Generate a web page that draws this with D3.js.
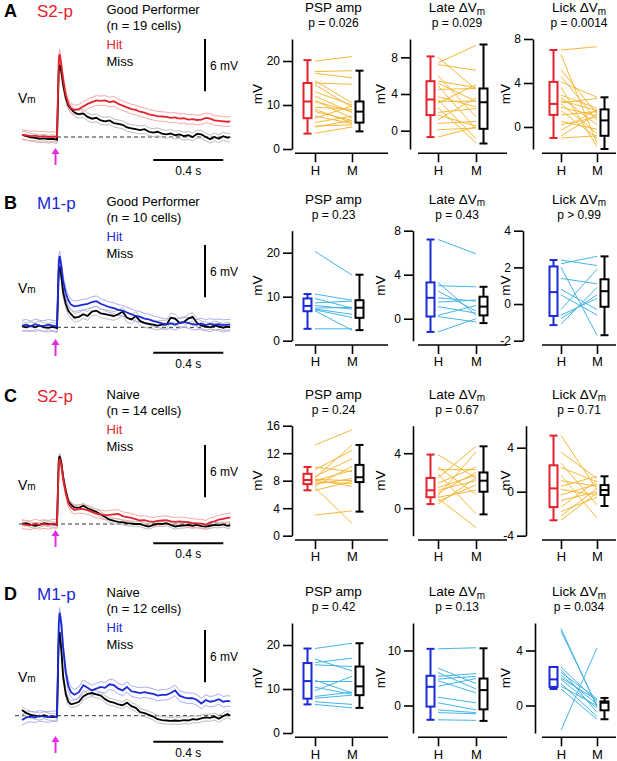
<!DOCTYPE html>
<html>
<head>
<meta charset="utf-8">
<script src="https://cdn.jsdelivr.net/npm/d3@7"></script>
<style>
  body { margin: 0; background: #fff; }
  svg { font-family: "Liberation Sans", Arial, sans-serif; }
  .axis path, .axis line { stroke: #000; stroke-width: 1.6; }
  .axis text { fill: #000; font-family: "Liberation Sans", Arial, sans-serif; }
</style>
</head>
<body>
<svg id="fig" width="617" height="761"></svg>
<script>
// ---- trace data (mV vs time in s, stim at 0) ----
var tTrace = [-0.2,-0.175,-0.15,-0.125,-0.1,-0.075,-0.05,-0.025,0,
  0.004,0.01,0.015,0.025,0.035,0.05,0.065,0.08,0.1,
  0.125,0.15,0.175,0.2,0.225,0.25,0.275,0.3,0.325,0.35,
  0.375,0.4,0.425,0.45,0.475,0.5,0.525,0.55,0.575,0.6,
  0.625,0.65,0.675,0.7,0.725,0.75,0.775,0.8,0.825,0.85,
  0.875,0.9,0.925,0.95,0.975,0.99];

var hitA = [0.25,0.2,0.1,0.15,0.05,0.1,0.0,0.05,0.0, 3.5,8.8,9.5,8.2,6.6,4.8,3.8,3.3,3.1,
  3.2,3.5,3.8,4.0,4.2,4.15,4.2,4.0,4.1,3.8, 3.6,3.4,3.2,3.1,2.9,2.8,2.6,2.5,2.4,2.35,
  2.3,2.2,2.25,2.1,2.15,2.0,2.05,1.95,2.0,2.2, 2.1,1.9,1.85,1.8,1.75, 1.8];
var missA = [0.25,0.1,-0.05,-0.1,-0.2,-0.15,-0.25,-0.2,-0.3, 3.0,7.6,8.3,7.5,6.0,4.5,3.6,3.2,2.8,
  2.6,2.7,2.3,2.1,2.2,1.9,1.8,1.9,1.6,1.5, 1.4,1.1,1.0,0.9,0.8,0.9,0.6,0.5,0.6,0.4,
  0.3,0.4,0.2,0.3,0.1,0.2,0.0,0.35,0.3,0.0, -0.25,0.0,-0.2,0.1,-0.1, 0.0];
var hitB = [0.2,0.3,0.1,0.35,0.2,0.15,0.3,0.2,0.1, 3.0,7.5,8.15,7.0,5.3,3.9,3.1,2.6,2.4,
  2.5,2.6,2.7,2.9,3.0,2.7,2.5,2.3,2.2,2.0, 1.9,1.7,1.5,1.3,1.2,1.0,0.9,0.7,0.6,0.45,
  0.35,0.45,0.3,0.5,0.6,0.5,0.35,0.3,0.45,0.25, 0.4,0.3,0.35,0.25,0.3, 0.3];
var missB = [0.1,0.0,0.15,0.0,0.2,0.0,-0.05,0.05,-0.1, 2.5,6.5,7.0,5.8,4.0,2.7,1.9,1.5,1.1,
  1.2,1.5,1.3,1.8,1.9,1.6,1.5,1.4,1.3,1.5, 1.8,1.1,0.9,1.3,0.7,0.5,0.4,0.3,0.2,0.3,
  0.3,1.1,1.0,0.5,0.6,1.0,1.2,0.5,0.2,0.1, 0.0,0.2,0.1,-0.05,0.1, 0.0];
var hitC = [0.0,-0.1,-0.15,0.05,-0.1,0.0,-0.1,0.05,0.0, 2.8,7.0,7.5,6.8,5.2,3.6,2.4,1.9,1.6,
  1.75,1.7,1.6,1.4,1.2,1.1,1.0,1.05,1.1,1.15, 0.9,0.8,0.7,0.55,0.4,0.45,0.3,0.25,0.35,0.4,
  0.45,0.3,0.25,0.3,0.25,0.2,0.1,0.05,0.05,-0.1, 0.2,0.3,0.5,0.6,0.7, 0.75];
var missC = [0.05,0.1,-0.1,-0.2,-0.1,0.1,0.0,-0.05,-0.1, 3.0,7.3,7.8,7.0,5.4,3.8,2.6,2.2,1.9,
  1.85,2.1,1.8,1.6,1.4,1.1,0.8,0.5,0.35,0.25, 0.2,0.1,0.05,0.0,0.0,-0.2,-0.3,-0.1,0.05,0.0,
  0.1,-0.1,-0.3,-0.2,-0.15,-0.1,-0.2,-0.1,-0.25,-0.3, -0.2,-0.1,-0.15,-0.05,-0.2, -0.15];
var hitD = [-0.5,-0.2,-0.1,-0.2,0.0,-0.1,-0.15,-0.05,-0.1, 4.0,10.5,11.8,10.5,7.8,5.0,3.4,2.7,2.4,
  2.7,3.5,3.2,2.9,3.1,3.3,3.2,3.6,3.5,3.1, 2.9,3.3,2.8,2.7,2.6,2.7,2.6,2.5,2.3,2.4,
  2.4,2.6,2.9,2.3,2.1,2.0,2.0,1.8,1.4,1.8, 1.6,1.7,1.9,1.6,1.7, 1.65];
var missD = [0.65,0.3,0.1,0.0,-0.1,0.05,-0.1,-0.15,-0.1, 3.5,8.8,9.6,7.5,4.5,2.5,1.6,1.3,1.4,
  1.6,2.2,2.5,2.6,2.45,2.3,1.9,1.6,1.5,1.3, 1.2,1.5,1.1,0.9,0.4,0.3,0.1,-0.1,-0.4,-0.5,
  -0.55,-0.6,-0.55,-0.6,-0.5,-0.55,-0.4,-0.45,-0.3,-0.2, -0.25,-0.1,-0.35,-0.05,0.2, 0.0];

var semHit = [0.55, 0.6, 0.5, 0.6];
var semMiss = [0.45, 0.5, 0.3, 0.4];

var areas = ["S2-p", "M1-p", "S2-p", "M1-p"];
var groups = ["Good Performer", "Good Performer", "Naive", "Naive"];
var nCells = [19, 10, 14, 12];
var letters = ["A", "B", "C", "D"];

// ---- paired per-cell values (Hit, Miss) ----
var pspHitA  = [20,17.6,17.2,15.5,15,14.6,13,12,11,10.8,9.5,9,8.5,7.5,7,6,5.2,5,3.6];
var pspMissA = [21,17.8,16.2,10.5,14.7,9.5,10,8.3,7,8.5,9,6,6.5,5.8,9.8,7.5,5.5,6.5,5];
var lateHitA  = [8.0,7.4,7.2,6.0,5.4,5.2,4.9,4.5,3.7,3.4,3.2,3.0,2.5,2.0,1.7,1.2,0.8,0.1,-0.7];
var lateMissA = [4.5,9.3,6.6,1.5,4.7,3.2,0.2,4.6,2.6,-0.9,3.2,5.0,-1.3,2.4,0.5,3.6,1.0,0.3,0.4];
var lickHitA  = [7.0,6.6,5.2,4.6,4.1,3.6,2.9,2.7,2.4,2.2,2.1,1.8,1.5,1.1,0.5,0.2,-0.3,-0.8,-1.0];
var lickMissA = [7.3,-1.5,1.2,0.6,2.7,-1.8,1.7,0.2,1.5,2.6,-0.6,1.0,-1.0,1.4,-0.2,0.9,1.6,1.2,-0.8];

var pspHitB  = [20.3,10.6,9.6,8.6,8.0,7.4,7.2,7.0,6.8,2.7];
var pspMissB = [14.9,9.2,7.4,9.0,7.2,7.6,6.0,5.3,2.4,2.7];
var lateHitB  = [7.2,3.3,3.0,2.5,1.9,1.5,1.1,0.3,0.2,-1.2];
var lateMissB = [5.9,0.3,2.9,0.7,1.6,1.7,0.5,1.2,-0.3,0.0];
var lickHitB  = [2.4,2.2,2.0,1.4,0.8,0.5,-0.3,-0.6,-0.8,-1.1];
var lickMissB = [2.1,2.6,-1.7,1.1,-0.3,-0.6,1.9,0.3,0.5,0.9];

var pspHitC  = [13.2,10.0,9.6,8.6,8.4,8.2,8.1,8.0,7.8,7.5,7.2,7.0,6.6,3.0];
var pspMissC = [15.4,9.3,12.4,11.2,13.2,8.0,7.2,9.5,7.6,8.3,10.1,1.8,7.9,3.6];
var lateHitC  = [3.9,3.0,2.8,2.5,2.2,1.8,1.5,1.3,1.1,0.9,0.8,0.7,0.5,0.3];
var lateMissC = [2.2,1.0,2.8,-0.4,4.5,3.0,2.4,2.0,2.6,4.1,1.3,-1.4,1.7,2.2];
var lickHitC  = [5.1,3.6,2.6,2.2,1.5,1.0,0.5,0.2,-0.3,-0.8,-1.4,-1.8,-2.2,-2.6];
var lickMissC = [0.2,1.2,-1.2,0.9,-2.4,0.5,1.4,-0.3,0.7,0.0,1.0,-0.5,0.3,-0.1];

var pspHitD  = [19.2,16.8,16.0,15.5,12.0,11.7,10.4,9.6,8.3,7.9,7.1,6.5];
var pspMissD = [20.4,14.1,17.0,15.1,9.1,11.7,8.8,12.9,9.3,8.6,6.5,5.7];
var lateHitD  = [10.3,6.8,6.0,5.3,4.8,4.5,3.5,1.5,0.5,-0.8,-1.3,-2.6];
var lateMissD = [10.5,4.0,3.0,5.8,5.3,2.3,4.9,0.5,-0.8,-1.3,-1.5,-2.7];
var lickHitD  = [5.6,5.4,2.8,2.6,2.4,2.2,1.9,1.6,1.4,1.2,-1.8,2.0];
var lickMissD = [-0.1,0.0,0.3,-0.5,0.5,0.1,-0.2,-0.8,0.0,-1.0,4.2,0.4];

// box stats: [whisker low, q1, median, q3, whisker high] for PSP, Late, Lick
var boxHitA  = [[3.5,7.0,10.8,15.0,20.2],[-0.7,1.7,3.4,5.4,8.1],[-1.0,1.1,2.1,4.1,7.0]];
var boxMissA = [[4.0,6.0,8.5,10.8,17.8],[-1.4,0.2,3.1,4.6,9.4],[-2.0,-0.8,0.6,1.6,2.7]];
var boxHitB  = [[2.7,6.7,7.9,9.6,10.6],[-1.2,0.2,1.9,3.3,7.2],[-1.15,-0.65,0.65,2.05,2.4]];
var boxMissB = [[2.4,5.2,7.5,9.2,15.0],[-0.4,0.3,1.1,2.0,2.9],[-1.7,-0.15,0.7,1.35,2.6]];
var boxHitC  = [[6.6,7.5,8.1,9.0,10.0],[0.3,0.8,1.3,2.2,3.9],[-2.6,-1.4,0.3,2.4,5.1]];
var boxMissC = [[3.5,7.8,8.5,10.3,13.2],[-0.45,1.2,2.0,2.6,4.5],[-1.3,-0.3,0.15,0.6,1.4]];
var boxHitD  = [[6.5,7.8,11.8,15.9,19.2],[-2.6,-0.2,3.4,5.4,10.3],[1.2,1.35,1.9,2.8,2.8]];
var boxMissD = [[5.7,8.6,10.6,15.1,20.4],[-2.8,-0.7,2.8,4.9,10.4],[-1.0,-0.35,0.2,0.3,0.55]];

var yDomains = [
  [[0,25],[-2,10],[-2,8]],
  [[0,25],[-2,8],[-2,4]],
  [[0,16],[-2,6],[-4,6]],
  [[0,25],[-5,15],[-2,6]]
];
var yTicks = [
  [[0,10,20],[0,4,8],[0,4,8]],
  [[0,10,20],[0,4,8],[-2,0,2,4]],
  [[0,4,8,12,16],[0,4],[-4,0,4]],
  [[0,10,20],[0,10],[0,4]]
];
var pTexts = [
  ["p = 0.026","p = 0.029","p = 0.0014"],
  ["p = 0.23","p = 0.43","p > 0.99"],
  ["p = 0.24","p = 0.67","p = 0.71"],
  ["p = 0.42","p = 0.13","p = 0.034"]
];
var titles = [["PSP amp",""],["Late \u0394V","m"],["Lick \u0394V","m"]];
var xCats = ["H", "M"];

// ---- colours & layout ----
var RED = "#e3232b", BLUE = "#1a2ad4", ORANGE = "#f5b83a", CYAN = "#45b5e6", MAGENTA = "#e42be2";
var hitColor = [RED, BLUE, RED, BLUE];
var bandHit = ["#f6a7a7", "#a9aef2", "#f6a7a7", "#a9aef2"];
var bandMiss = "#bcbcbc";
var pairColor = [ORANGE, CYAN, ORANGE, CYAN];

var traceRows = [
  {base:137,   sbTop:39,  tbY:160,   arrowY:148, txtY:14,  dashX:57},
  {base:327.3, sbTop:245, tbY:352.7, arrowY:339, txtY:206, dashX:57},
  {base:524,   sbTop:445, tbY:543.3, arrowY:530, txtY:399, dashX:19},
  {base:715.7, sbTop:630, tbY:741.7, arrowY:736, txtY:597, dashX:15}
];
var boxBottom = [149, 340.7, 535.7, 733];
var yAxisX = [[292,410,533],[292,413,523],[292,413,526],[292,413,535]];
var hX = [315,438,561], mX = [352,476,597];
var xLine = [[295,388],[418,507],[542,616]];
var mvX = [257,380,505];

var svg = d3.select("#fig");

var hits = [hitA, hitB, hitC, hitD];
var misses = [missA, missB, missC, missD];
var pairsHit = [[pspHitA,lateHitA,lickHitA],[pspHitB,lateHitB,lickHitB],[pspHitC,lateHitC,lickHitC],[pspHitD,lateHitD,lickHitD]];
var pairsMiss = [[pspMissA,lateMissA,lickMissA],[pspMissB,lateMissB,lickMissB],[pspMissC,lateMissC,lickMissC],[pspMissD,lateMissD,lickMissD]];
var boxesHit = [boxHitA, boxHitB, boxHitC, boxHitD];
var boxesMiss = [boxMissA, boxMissB, boxMissC, boxMissD];

// ---- trace panels ----
var xT = d3.scaleLinear().domain([0, 1]).range([57, 232]);   // 175 px per s

traceRows.forEach(function(L, r) {
    var g = svg.append("g");
    var yT = d3.scaleLinear().domain([0, 6]).range([L.base, L.base - 52.3]);
    var line = function(off) {
        return d3.line().x(function(d, i){ return xT(tTrace[i]); })
                        .y(function(d){ return yT(d + off); });
    };

    // dashed baseline
    g.append("line")
        .attr("x1", L.dashX).attr("x2", xT(0.99))
        .attr("y1", yT(0)).attr("y2", yT(0))
        .attr("stroke", "#333").attr("stroke-width", 1).attr("stroke-dasharray", "4,3");

    // sem bands
    [[misses[r], semMiss[r], bandMiss], [hits[r], semHit[r], bandHit[r]]].forEach(function(s) {
        [1, -1].forEach(function(sign) {
            g.append("path").attr("d", line(sign * s[1])(s[0]))
                .attr("fill", "none").attr("stroke", s[2]).attr("stroke-width", 1);
        });
    });
    // means
    g.append("path").attr("d", line(0)(misses[r]))
        .attr("fill", "none").attr("stroke", "#000").attr("stroke-width", 1.8);
    g.append("path").attr("d", line(0)(hits[r]))
        .attr("fill", "none").attr("stroke", hitColor[r]).attr("stroke-width", 1.8);

    // scale bars
    g.append("line").attr("x1", 205).attr("x2", 205)
        .attr("y1", L.sbTop).attr("y2", L.sbTop + (yT(0) - yT(6)))
        .attr("stroke", "#000").attr("stroke-width", 2);
    g.append("text").attr("x", 210).attr("y", L.sbTop + 31)
        .attr("font-size", 12).text("6 mV");
    g.append("line").attr("x1", xT(0.55)).attr("x2", xT(0.95))
        .attr("y1", L.tbY).attr("y2", L.tbY)
        .attr("stroke", "#000").attr("stroke-width", 2);
    g.append("text").attr("x", xT(0.75)).attr("y", L.tbY + 15)
        .attr("text-anchor", "middle").attr("font-size", 12).text("0.4 s");

    // Vm label
    var vm = g.append("text").attr("x", 18).attr("y", L.base - 34).attr("font-size", 14);
    vm.append("tspan").text("V");
    vm.append("tspan").attr("font-size", 10).text("m");

    // stimulus arrow
    var ax = 55.5;
    g.append("line").attr("x1", ax).attr("x2", ax)
        .attr("y1", L.arrowY + 4).attr("y2", L.arrowY + 17)
        .attr("stroke", MAGENTA).attr("stroke-width", 2);
    g.append("path")
        .attr("d", "M" + (ax - 4) + "," + (L.arrowY + 6) + "L" + ax + "," + L.arrowY + "L" + (ax + 4) + "," + (L.arrowY + 6) + "Z")
        .attr("fill", MAGENTA);

    // labels
    g.append("text").attr("x", 4).attr("y", L.txtY + 3)
        .attr("font-size", 18).attr("font-weight", "bold").text(letters[r]);
    g.append("text").attr("x", 37).attr("y", L.txtY + 3)
        .attr("font-size", 17).attr("fill", hitColor[r]).text(areas[r]);
    g.append("text").attr("x", 106.5).attr("y", L.txtY)
        .attr("font-size", 13).text(groups[r]);
    g.append("text").attr("x", 106.5).attr("y", L.txtY + 16)
        .attr("font-size", 13).text("(n = " + nCells[r] + " cells)");
    g.append("text").attr("x", 106.5).attr("y", L.txtY + 34.5)
        .attr("font-size", 13).attr("fill", hitColor[r]).text("Hit");
    g.append("text").attr("x", 106.5).attr("y", L.txtY + 52)
        .attr("font-size", 13).text("Miss");
});

// ---- paired box plots ----
function drawBox(g, y, cx, s, color) {
    var w = 8;
    g.append("line").attr("x1", cx).attr("x2", cx).attr("y1", y(s[0])).attr("y2", y(s[1]))
        .attr("stroke", color).attr("stroke-width", 2);
    g.append("line").attr("x1", cx).attr("x2", cx).attr("y1", y(s[3])).attr("y2", y(s[4]))
        .attr("stroke", color).attr("stroke-width", 2);
    [s[0], s[4]].forEach(function(v) {
        g.append("line").attr("x1", cx - w/2).attr("x2", cx + w/2).attr("y1", y(v)).attr("y2", y(v))
            .attr("stroke", color).attr("stroke-width", 2);
    });
    g.append("rect").attr("x", cx - w/2).attr("y", y(s[3]))
        .attr("width", w).attr("height", y(s[1]) - y(s[3]))
        .attr("fill", "none").attr("stroke", color).attr("stroke-width", 2);
    g.append("line").attr("x1", cx - w/2).attr("x2", cx + w/2).attr("y1", y(s[2])).attr("y2", y(s[2]))
        .attr("stroke", color).attr("stroke-width", 2);
}

function boxPanel(r, c) {
    var bottom = boxBottom[r], yTop = bottom - 110;
    var g = svg.append("g");
    var y = d3.scaleLinear().domain(yDomains[r][c]).range([bottom, yTop]);
    var x = d3.scalePoint().domain(xCats).range([hX[c], mX[c]]);

    var ya = g.append("g").attr("class", "axis")
        .attr("transform", "translate(" + yAxisX[r][c] + ",0)")
        .call(d3.axisLeft(y).tickValues(yTicks[r][c]).tickSize(9).tickSizeOuter(0)
              .tickPadding(3).tickFormat(function(d){ return String(d); }));
    ya.selectAll("text").attr("font-size", 12);

    var xa = g.append("g").attr("class", "axis")
        .attr("transform", "translate(0," + (bottom + 4.3) + ")")
        .call(d3.axisBottom(x).tickSize(9).tickSizeOuter(0).tickPadding(3));
    xa.select(".domain").remove();
    xa.append("line").attr("x1", xLine[c][0]).attr("x2", xLine[c][1])
        .attr("stroke", "#000").attr("stroke-width", 1.6);
    xa.selectAll(".tick text").attr("font-size", 13)
        .attr("fill", function(d){ return d === "H" ? hitColor[r] : "#000"; });

    // paired lines
    g.selectAll("line.pair").data(d3.zip(pairsHit[r][c], pairsMiss[r][c])).join("line")
        .attr("class", "pair")
        .attr("x1", x("H")).attr("x2", x("M"))
        .attr("y1", function(d){ return y(d[0]); })
        .attr("y2", function(d){ return y(d[1]); })
        .attr("stroke", pairColor[r]).attr("stroke-width", 1);

    drawBox(g, y, x("H") - 7.5, boxesHit[r][c], hitColor[r]);
    drawBox(g, y, x("M") + 7.5, boxesMiss[r][c], "#000");

    // titles
    var tx = (hX[c] + mX[c]) / 2;
    var t = g.append("text").attr("x", tx).attr("y", bottom - 137)
        .attr("text-anchor", "middle").attr("font-size", 13.5);
    t.append("tspan").text(titles[c][0]);
    if (titles[c][1]) t.append("tspan").attr("font-size", 10).attr("dy", 2.5).text(titles[c][1]);
    g.append("text").attr("x", tx).attr("y", bottom - 122)
        .attr("text-anchor", "middle").attr("font-size", 12).text(pTexts[r][c]);

    // y label
    g.append("text")
        .attr("transform", "translate(" + (mvX[c] + 5) + "," + ((yTop + bottom) / 2) + ") rotate(-90)")
        .attr("text-anchor", "middle").attr("font-size", 13.5).text("mV");
}

for (var r = 0; r < 4; r++) {
    for (var c = 0; c < 3; c++) boxPanel(r, c);
}
</script>
</body>
</html>
